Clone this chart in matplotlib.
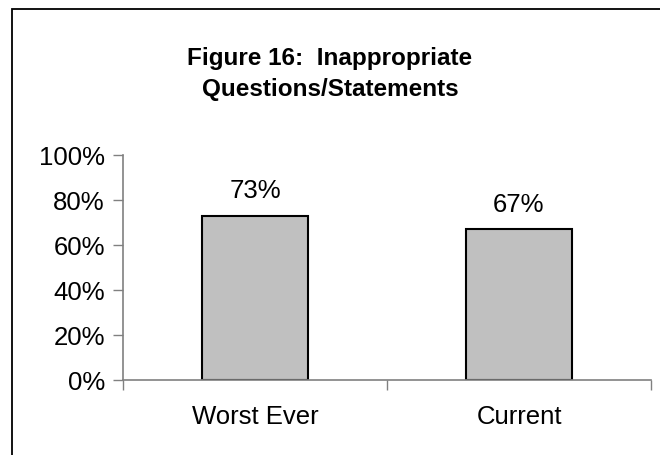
import matplotlib
matplotlib.use("Agg")
import matplotlib.pyplot as plt
from matplotlib.patches import Rectangle

categories = ["Worst Ever", "Current"]
values = [73, 67]
yticks = [0, 20, 40, 60, 80, 100]
ytick_labels = ["0%", "20%", "40%", "60%", "80%", "100%"]
title = "Figure 16:  Inappropriate\nQuestions/Statements"

plt.rcParams['font.family'] = ['Liberation Sans', 'DejaVu Sans']

W, H = 660, 456
fig = plt.figure(figsize=(W / 100, H / 100), dpi=100)

# figure border (only left and top visible in reference)
fig.patches.append(Rectangle((12 / W, -0.05), 1.1, (H - 10) / H + 0.05,
                             transform=fig.transFigure, fill=False,
                             edgecolor='black', linewidth=1.3, zorder=0))

ax = fig.add_axes([123 / W, 1 - 381 / H, (651 - 123) / W, (381 - 156) / H])
x = list(range(len(categories)))
ax.bar(x, values, width=0.4, color='#C0C0C0', edgecolor='black', linewidth=1.5, zorder=3)
for xi, v in zip(x, values):
    ax.text(xi, v + 6, f"{v}%", ha='center', va='bottom', fontsize=18.5)

ax.set_xlim(-0.5, len(categories) - 0.5)
ax.set_ylim(0, 100)
ax.set_yticks(yticks)
ax.set_yticklabels(ytick_labels, fontsize=18.5)
ax.set_xticks([i - 0.5 for i in range(len(categories) + 1)])
ax.set_xticklabels([])
ax.set_xticks(x, minor=True)
ax.set_xticklabels(categories, minor=True, fontsize=18.5)
ax.tick_params(axis='x', which='minor', length=0, pad=17)
ax.tick_params(axis='x', which='major', length=7, width=1, color='#808080', direction='out')
ax.tick_params(axis='y', length=7, width=1, color='#808080', direction='out', pad=6)
for s in ['top', 'right']:
    ax.spines[s].set_visible(False)
for s in ['left', 'bottom']:
    ax.spines[s].set_color('#808080')
    ax.spines[s].set_linewidth(1.2)
ax.spines['bottom'].set_zorder(4)

fig.text(0.5, 1 - 74 / H, title, ha='center', va='center', fontsize=17.5,
         fontweight='bold', linespacing=1.45)

fig.savefig("out.png", dpi=100)
